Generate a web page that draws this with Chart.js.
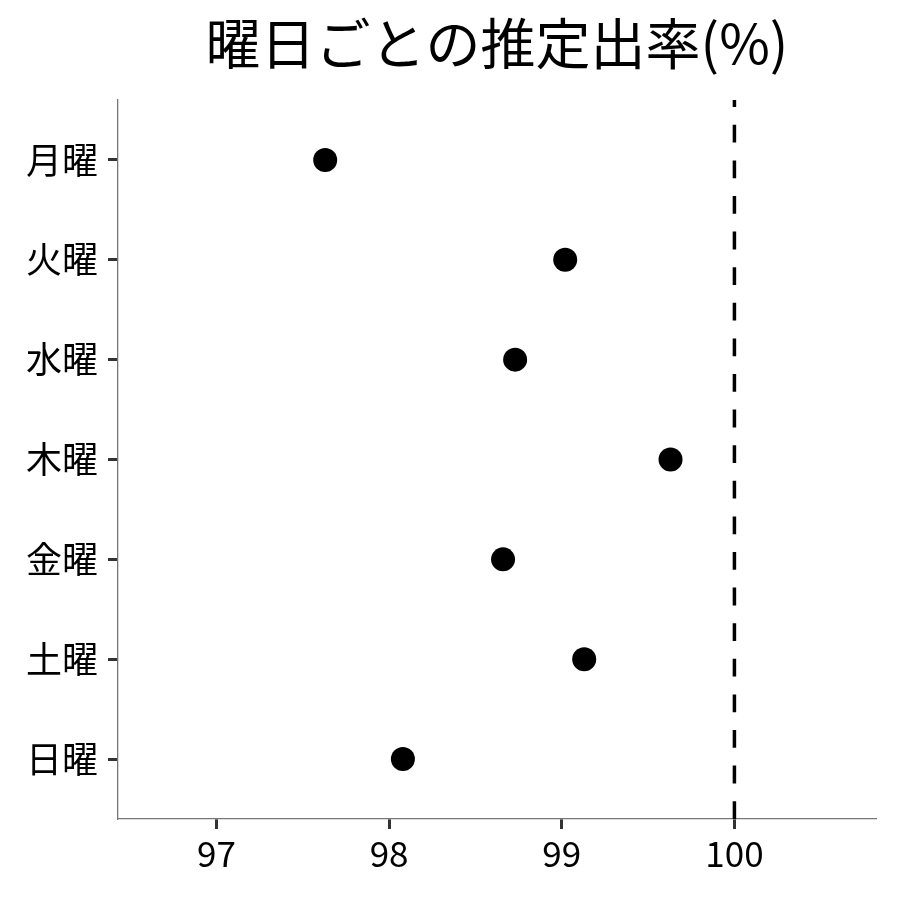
<!DOCTYPE html>
<html>
<head>
<meta charset="utf-8">
<script src="https://cdn.jsdelivr.net/npm/chart.js@4"></script>
<style>
  html, body { margin: 0; padding: 0; background: #fff; }
  #wrap { width: 900px; height: 900px; }
</style>
</head>
<body>
<div id="wrap"><canvas id="dotplot"></canvas></div>
<script>
// data
const days = ['月曜', '火曜', '水曜', '木曜', '金曜', '土曜', '日曜'];
const rates = [97.63, 99.02, 98.73, 99.63, 98.66, 99.13, 98.08];
const xTicks = [97, 98, 99, 100];
const refValue = 100;

const font = '"Noto Sans CJK JP", "Noto Sans", sans-serif';

const points = days.map((d, i) => ({ x: rates[i], y: i }));
// drawn bottom -> top so the dash pattern starts at the axis
const refLine = [{ x: refValue, y: days.length - 0.4 }, { x: refValue, y: -0.6 }];

const ctx = document.getElementById('dotplot').getContext('2d');
const chart = new Chart(ctx, {
  type: 'scatter',
  data: {
    datasets: [{
      data: points,
      backgroundColor: '#000',
      borderColor: '#000',
      pointRadius: 12,
      pointHoverRadius: 12,
      borderWidth: 0
    }, {
      data: refLine,
      showLine: true,
      borderColor: '#000',
      borderWidth: 3.5,
      borderDash: [17.8, 17.8],
      pointRadius: 0
    }]
  },
  options: {
    responsive: true,
    maintainAspectRatio: false,
    animation: false,
    layout: { padding: { left: 16, right: 24, top: 6, bottom: 21 } },
    plugins: {
      legend: { display: false },
      tooltip: { enabled: false },
      title: {
        display: true,
        text: '曜日ごとの推定出率(%)',
        color: '#000',
        fullSize: false,
        font: { family: font, size: 55, weight: 'normal' },
        padding: { top: 4, bottom: 24 }
      }
    },
    scales: {
      x: {
        type: 'linear',
        min: 96.43,
        max: 100.82,
        afterBuildTicks: (s) => { s.ticks = xTicks.map(v => ({ value: v })); },
        border: { display: true, color: '#777', width: 1.3 },
        grid: { drawOnChartArea: false, drawTicks: true, tickLength: 10, tickWidth: 3, tickColor: '#333' },
        ticks: { color: '#000', font: { family: font, size: 35 }, padding: 4, maxRotation: 0 }
      },
      y: {
        type: 'linear',
        reverse: true,
        min: -0.6,
        max: days.length - 0.4,
        afterBuildTicks: (s) => { s.ticks = days.map((d, i) => ({ value: i })); },
        border: { display: true, color: '#777', width: 1.3 },
        grid: { drawOnChartArea: false, drawTicks: true, tickLength: 10, tickWidth: 3, tickColor: '#333' },
        ticks: {
          color: '#000',
          font: { family: font, size: 36 },
          padding: 10,
          callback: (v) => days[v]
        }
      }
    }
  }
});
</script>
</body>
</html>
